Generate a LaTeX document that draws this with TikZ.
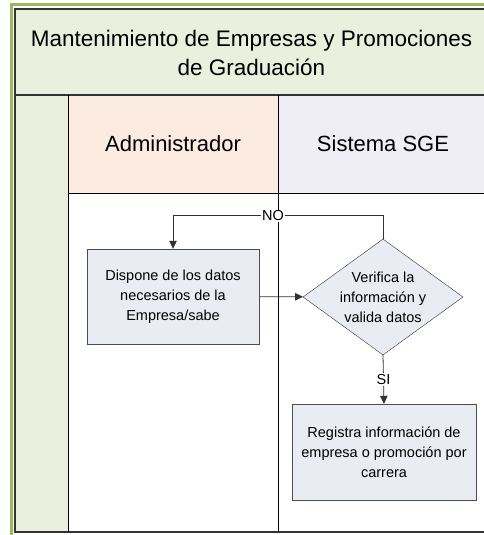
\documentclass[tikz,border=0pt]{standalone}
\usepackage{fontspec}
\setmainfont{Liberation Sans}
\usepackage{xcolor}
\usetikzlibrary{shapes.geometric,arrows.meta,positioning}

\definecolor{marcoverde}{HTML}{9BBB59}
\definecolor{fondoverde}{HTML}{EBF0DE}
\definecolor{fondoadmin}{HTML}{FCEBE0}
\definecolor{fondosistema}{HTML}{EFEEF5}
\definecolor{fondopaso}{HTML}{E9ECF3}
\definecolor{lineagris}{HTML}{333333}

\begin{document}
\begin{tikzpicture}[
    x=1pt, y=1pt,
    paso/.style={rectangle, draw=black!70, fill=fondopaso, minimum width=172pt, minimum height=95pt, align=center, font=\fontsize{14.5}{20}\selectfont},
    decision/.style={diamond, draw=black!80, fill=fondopaso, aspect=1.38, inner sep=0pt, minimum width=160pt, minimum height=116pt, align=center, font=\fontsize{14.5}{20}\selectfont},
    cabecera/.style={font=\fontsize{22.5}{29}\selectfont, align=center},
    etiqueta/.style={fill=white, inner sep=1pt, font=\fontsize{14.5}{17}\selectfont},
    flecha/.style={-{Triangle[length=8pt,width=7.5pt]}, draw=lineagris, line width=0.8pt}
]
\useasboundingbox (0,0) rectangle (483,535);

% bandas de fondo
\fill[fondoverde] (15,440) rectangle (488,526);
\fill[fondoverde] (15,3) rectangle (68,440);
\fill[fondoadmin] (68,342) rectangle (278,440);
\fill[fondosistema] (278,342) rectangle (488,440);

% marco y carriles
\draw[marcoverde, line width=3pt] (11.5,-5) -- (11.5,530.5) -- (495,530.5);
\draw[lineagris, line width=1.2pt] (488,526) -- (15,526) -- (15,3) -- (488,3);
\draw[lineagris, line width=1.5pt] (15,440) -- (488,440);
\draw[black, line width=0.8pt] (68,3) -- (68,440);
\draw[black, line width=0.8pt] (278,3) -- (278,440);
\draw[black, line width=0.8pt] (68,342) -- (488,342);

% textos de cabecera
\node[cabecera] (titulo) at (251.5,482.5) {Mantenimiento de Empresas y Promociones\\de Graduación};
\node[cabecera, font=\fontsize{22}{28}\selectfont] (admin) at (173,391) {Administrador};
\node[cabecera, font=\fontsize{22}{28}\selectfont] (sistema) at (383,391) {Sistema SGE};

% pasos
\node[paso] (dispone) at (173,238.5) {Dispone de los datos\\necesarios de la\\Empresa/sabe};
\node[decision] (verifica) at (383,238) {Verifica la\\información y\\valida datos};
\node[paso, minimum width=184pt, minimum height=96pt] (registra) at (384,83) {Registra información de\\empresa o promoción por\\carrera};

\draw[flecha] (dispone) -- (verifica);
\draw[flecha] (verifica.north) |- node[etiqueta, pos=0.762] {NO} ([yshift=33pt]dispone.north) -- (dispone.north);
\draw[flecha] (verifica.south) -- node[etiqueta, pos=0.5] {SI} (registra.north);

\end{tikzpicture}
\end{document}
